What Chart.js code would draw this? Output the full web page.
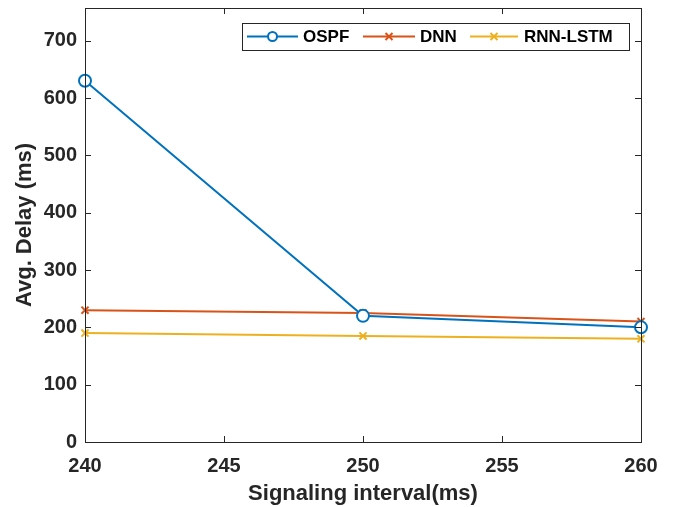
<!DOCTYPE html>
<html>
<head>
<meta charset="utf-8">
<script src="https://cdn.jsdelivr.net/npm/chart.js@4.4.1/dist/chart.umd.min.js"></script>
<style>
  html, body { margin: 0; padding: 0; background: #fff; }
  #wrap { width: 673px; height: 507px; }
</style>
</head>
<body>
<div id="wrap"><canvas id="delayChart" width="673" height="507"></canvas></div>
<script>
// signaling intervals (ms)
const intervals = [240, 250, 260];
// average delay per method (ms)
const ospf = [630, 220, 200];
const dnn = [230, 225, 210];
const rnnLstm = [190, 185, 180];
const xTicks = [240, 245, 250, 255, 260];
const yTicks = [0, 100, 200, 300, 400, 500, 600, 700];

const FONT = "'Liberation Sans', Arial, Helvetica, sans-serif";
const AXIS_COLOR = "#262626";

function toPoints(ys) {
    return intervals.map((x, i) => ({ x: x, y: ys[i] }));
}

// box around plot area with inward tick marks
const boxPlugin = {
    id: "box",
    afterDraw(chart) {
        const { ctx, chartArea: a, scales } = chart;
        ctx.save();
        ctx.strokeStyle = AXIS_COLOR;
        ctx.lineWidth = 1;
        ctx.strokeRect(a.left + 0.5, a.top + 0.5, a.right - a.left, a.bottom - a.top);
        ctx.beginPath();
        xTicks.forEach(v => {
            const px = Math.round(scales.x.getPixelForValue(v)) + 0.5;
            ctx.moveTo(px, a.bottom); ctx.lineTo(px, a.bottom - 6);
            ctx.moveTo(px, a.top); ctx.lineTo(px, a.top + 6);
        });
        yTicks.forEach(v => {
            const py = Math.round(scales.y.getPixelForValue(v)) + 0.5;
            ctx.moveTo(a.left, py); ctx.lineTo(a.left + 6, py);
            ctx.moveTo(a.right, py); ctx.lineTo(a.right - 6, py);
        });
        ctx.stroke();
        ctx.restore();
    }
};

// legend drawn inside the plot, upper right
const insideLegend = {
    id: "insideLegend",
    afterDraw(chart) {
        const { ctx } = chart;
        const left = 242, top = 23, right = 629, bottom = 50;
        const cy = (top + bottom) / 2;
        ctx.save();
        ctx.fillStyle = "#fff";
        ctx.fillRect(left, top, right - left, bottom - top);
        ctx.strokeStyle = AXIS_COLOR;
        ctx.lineWidth = 1;
        ctx.strokeRect(left + 0.5, top + 0.5, right - left, bottom - top);
        const items = [
            { ds: 0, x0: 247, x1: 298, tx: 303 },
            { ds: 1, x0: 363, x1: 415, tx: 420 },
            { ds: 2, x0: 470, x1: 518, tx: 524 }
        ];
        items.forEach(it => {
            const ds = chart.data.datasets[it.ds];
            ctx.strokeStyle = ds.borderColor;
            ctx.lineWidth = 2;
            ctx.beginPath();
            ctx.moveTo(it.x0, cy); ctx.lineTo(it.x1, cy);
            ctx.stroke();
            const mx = (it.x0 + it.x1) / 2;
            ctx.beginPath();
            if (ds.pointStyle === "circle") {
                ctx.fillStyle = "#fff";
                ctx.arc(mx, cy, 4.5, 0, Math.PI * 2);
                ctx.fill();
                ctx.stroke();
            } else {
                const r = 3.5;
                ctx.moveTo(mx - r, cy - r); ctx.lineTo(mx + r, cy + r);
                ctx.moveTo(mx + r, cy - r); ctx.lineTo(mx - r, cy + r);
                ctx.stroke();
            }
            ctx.fillStyle = "#000";
            ctx.font = "bold 17px " + FONT;
            ctx.textBaseline = "middle";
            ctx.fillText(ds.label, it.tx, cy + 1);
        });
        ctx.restore();
    }
};

// keep the plot box in a fixed place regardless of label overhang
function noOverhang(s) {
    s.paddingTop = 0;
    s.paddingBottom = 0;
    s.paddingLeft = 0;
    s.paddingRight = 0;
}

new Chart(document.getElementById("delayChart"), {
    type: "line",
    data: {
        datasets: [
            {
                label: "OSPF",
                data: toPoints(ospf),
                borderColor: "#0072BD",
                backgroundColor: "#fff",
                pointStyle: "circle",
                pointRadius: 6,
                pointBorderWidth: 2
            },
            {
                label: "DNN",
                data: toPoints(dnn),
                borderColor: "#D95319",
                backgroundColor: "#D95319",
                pointStyle: "crossRot",
                pointRadius: 5,
                pointBorderWidth: 2
            },
            {
                label: "RNN-LSTM",
                data: toPoints(rnnLstm),
                borderColor: "#EDB120",
                backgroundColor: "#EDB120",
                pointStyle: "crossRot",
                pointRadius: 5,
                pointBorderWidth: 2
            }
        ]
    },
    options: {
        responsive: false,
        animation: false,
        clip: false,
        borderWidth: 2,
        tension: 0,
        layout: { padding: { top: 8, right: 32, left: 0, bottom: 0 } },
        plugins: {
            legend: { display: false },
            tooltip: { enabled: false }
        },
        scales: {
            x: {
                type: "linear",
                min: 240,
                max: 260,
                afterBuildTicks: s => { s.ticks = xTicks.map(v => ({ value: v })); },
                afterFit: s => { s.height = 507 - 442; noOverhang(s); },
                grid: { display: false, drawTicks: false },
                border: { display: false },
                ticks: {
                    color: "#262626",
                    padding: 12,
                    maxRotation: 0,
                    font: { family: FONT, size: 20, weight: "bold" }
                },
                title: {
                    display: true,
                    text: "Signaling interval(ms)",
                    color: "#262626",
                    padding: { top: 3, bottom: 0 },
                    font: { family: FONT, size: 22, weight: "bold" }
                }
            },
            y: {
                type: "linear",
                min: 0,
                max: 757,
                afterBuildTicks: s => { s.ticks = yTicks.map(v => ({ value: v })); },
                afterFit: s => { s.width = 85; noOverhang(s); },
                grid: { display: false, drawTicks: false },
                border: { display: false },
                ticks: {
                    color: "#262626",
                    padding: 8,
                    font: { family: FONT, size: 20, weight: "bold" }
                },
                title: {
                    display: true,
                    text: "Avg. Delay (ms)",
                    color: "#262626",
                    padding: { top: 12, bottom: 0 },
                    font: { family: FONT, size: 22, weight: "bold" }
                }
            }
        }
    },
    plugins: [boxPlugin, insideLegend]
});
</script>
</body>
</html>
